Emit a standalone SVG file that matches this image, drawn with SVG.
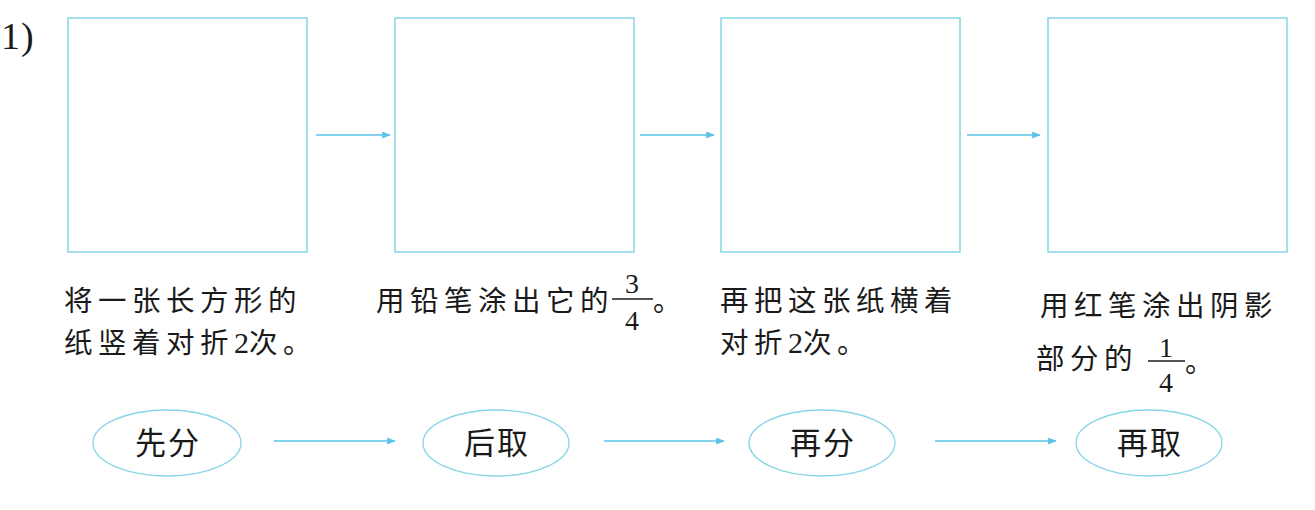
<svg xmlns="http://www.w3.org/2000/svg" width="1315" height="510" viewBox="0 0 1315 510">
<style>
.box{fill:none;stroke:#86d6e6;stroke-width:1.5}
.ell{fill:none;stroke:#86d6e6;stroke-width:1.3}
.arr{stroke:#5cc3e8;stroke-width:1.3;fill:none;marker-end:url(#ah)}
.cn{font-family:"Noto Sans CJK SC","Noto Sans CJK TC",sans-serif;font-size:28.5px;fill:#1a1a1a;letter-spacing:5.5px}
.el{font-family:"Noto Sans CJK SC",sans-serif;font-size:31px;fill:#1a1a1a;text-anchor:middle;letter-spacing:2px}
.num{font-family:"Liberation Serif",serif;font-size:28px;fill:#1a1a1a;text-anchor:middle}
.d2{font-family:"Liberation Serif",serif;font-size:30px;letter-spacing:0}
.fl{stroke:#1a1a1a;stroke-width:1.3}
</style>
<defs>
<marker id="ah" viewBox="0 0 10 8" refX="9" refY="4" markerWidth="9" markerHeight="7" markerUnits="userSpaceOnUse" orient="auto">
<path d="M0,0 L10,4 L0,8 Z" fill="#5cc3e8"/>
</marker>
</defs>
<rect width="1315" height="510" fill="#ffffff"/>
<g id="label">
<text x="1" y="49" font-family="Liberation Serif,serif" font-size="38" fill="#1a1a1a">1</text>
<text x="21" y="49" font-family="Liberation Serif,serif" font-size="38" fill="#1a1a1a">)</text>
</g>
<g id="box1"><rect class="box" x="68" y="18" width="239" height="234"/></g>
<g id="box2"><rect class="box" x="395" y="18" width="239" height="234"/></g>
<g id="box3"><rect class="box" x="721" y="18" width="239" height="234"/></g>
<g id="box4"><rect class="box" x="1048" y="18" width="239" height="234"/></g>
<g id="step1">
<text class="cn" x="64" y="311">将一张长方形的</text>
<text class="cn" x="64" y="353">纸竖着对折<tspan class="d2">2</tspan>次。</text>
</g>
<g id="step2">
<text class="cn" x="376" y="311">用铅笔涂出它的</text>
<text class="num" x="632" y="293">3</text>
<line class="fl" x1="612" y1="299" x2="653" y2="299"/>
<text class="num" x="632" y="330">4</text>
<text class="cn" x="653" y="311">。</text>
</g>
<g id="step3">
<text class="cn" x="720" y="311">再把这张纸横着</text>
<text class="cn" x="720" y="353">对折<tspan class="d2">2</tspan>次。</text>
</g>
<g id="step4">
<text class="cn" x="1040" y="316">用红笔涂出阴影</text>
<text class="cn" x="1036" y="369">部分的</text>
<text class="num" x="1166" y="357">1</text>
<line class="fl" x1="1148" y1="361" x2="1185" y2="361"/>
<text class="num" x="1166" y="392">4</text>
<text class="cn" x="1185" y="372">。</text>
</g>
<g id="oval1"><ellipse class="ell" cx="167" cy="443" rx="74" ry="33"/><text class="el" x="168" y="454">先分</text></g>
<g id="oval2"><ellipse class="ell" cx="496" cy="443" rx="73" ry="33"/><text class="el" x="497" y="454">后取</text></g>
<g id="oval3"><ellipse class="ell" cx="822" cy="443" rx="73" ry="33"/><text class="el" x="823" y="454">再分</text></g>
<g id="oval4"><ellipse class="ell" cx="1149" cy="443" rx="73" ry="33"/><text class="el" x="1150" y="454">再取</text></g>
<g id="connectors">
<line class="arr" x1="316" y1="135" x2="390" y2="135"/>
<line class="arr" x1="640" y1="135" x2="714" y2="135"/>
<line class="arr" x1="967" y1="135" x2="1040" y2="135"/>
<line class="arr" x1="274" y1="441" x2="395" y2="441"/>
<line class="arr" x1="604" y1="441" x2="724" y2="441"/>
<line class="arr" x1="935" y1="441" x2="1056" y2="441"/>
</g>
</svg>
